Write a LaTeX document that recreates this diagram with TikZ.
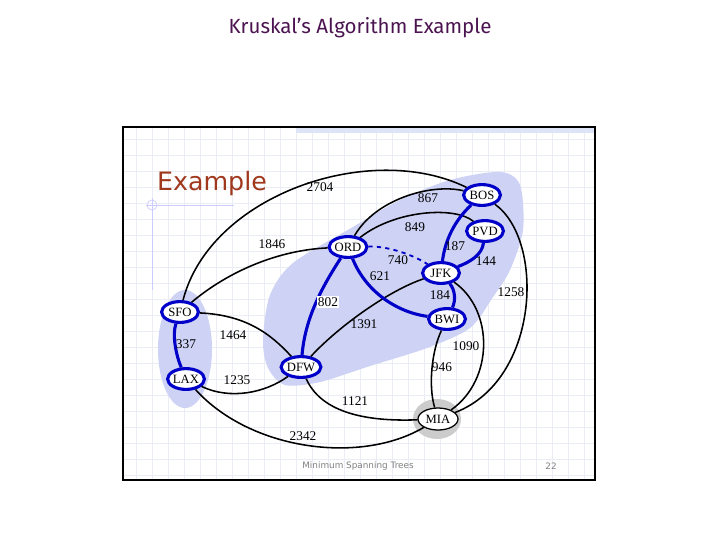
\documentclass[tikz,border=0pt]{standalone}
\usepackage{fontspec}
\setmainfont{Liberation Serif}
\newfontfamily\slidefont{DejaVu Sans}
\newfontfamily\headfont{Fira Sans}
\usepackage{xcolor}
\usepackage{tikz}
\usetikzlibrary{shapes.geometric}
\definecolor{mstblue}{RGB}{0,0,200}
\definecolor{blobblue}{RGB}{206,210,244}
\definecolor{exred}{RGB}{160,56,30}
\definecolor{headpurple}{RGB}{75,20,80}
\definecolor{gridgray}{RGB}{234,237,243}
\definecolor{bandblue}{RGB}{222,228,248}
\tikzset{
    city/.style={draw=mstblue, line width=2.2pt, ellipse, fill=white, inner sep=0pt, minimum width=0.92cm, minimum height=0.52cm, font=\fontsize{9}{9}\selectfont},
    mstedge/.style={draw=mstblue, line width=2.2pt},
    mstdash/.style={draw=mstblue, line width=1.3pt, dashed},
    roadedge/.style={draw, line width=1.1pt},
    wt/.style={font=\fontsize{9.5}{10}\selectfont, inner sep=1pt},
    gridline/.style={draw=gridgray, line width=0.4pt},
    guide/.style={draw=blue!20, line width=0.5pt}
}

\begin{document}
\begin{tikzpicture}[x=0.025cm, y=-0.025cm]
    \useasboundingbox (0,0) rectangle (720,540);
    \node[font=\headfont\fontsize{14.6}{15}\selectfont, text=headpurple] (head) at (360,28) {Kruskal’s Algorithm Example};

    % slide background and grid
    \fill[white] (123,127) rectangle (595,480);
    \foreach \gx in {136,152,...,584}
        \draw[gridline] (\gx,128) -- (\gx,479);
    \foreach \gy in {139,155,...,475}
        \draw[gridline] (124,\gy) -- (594,\gy);
    \fill[bandblue] (296,128) rectangle (594,133);
    \draw[guide] (152,205) circle (5);
    \draw[guide] (146,205) -- (234,205);
    \draw[guide] (152,198) -- (152,290);
    \node[font=\slidefont\fontsize{18}{19}\selectfont, text=exred] (extitle) at (212,184) {Example};

    % clusters
    \fill[blobblue] plot[smooth cycle] coordinates {(263,340) (270,295) (293,263) (353,227) (400,200) (450,180) (500,172) (520,185) (523,230) (510,270) (493,297) (470,328) (427,348) (370,366) (320,382) (285,385) (268,368)};
    \fill[blobblue] (185,349) ellipse [x radius=27, y radius=59];
    \fill[gray!40] (437,419) ellipse [x radius=24, y radius=20];

    % cities
    \node[city] (bos) at (482,195) {BOS};
    \node[city] (pvd) at (485,231) {PVD};
    \node[city] (ord) at (348,247) {ORD};
    \node[city] (jfk) at (441,273) {JFK};
    \node[city] (sfo) at (180,312) {SFO};
    \node[city] (bwi) at (447,319) {BWI};
    \node[city] (dfw) at (301,367) {DFW};
    \node[city] (lax) at (186,379) {LAX};
    \node[city, draw=black, line width=0.9pt, minimum width=1.0cm, minimum height=0.55cm] (mia) at (438,419) {MIA};

    % other routes
    \draw[roadedge] (sfo) .. controls (210,195) and (370,140) .. (bos) node[wt] at (320,187) {2704};
    \draw[roadedge] (ord) .. controls (375,200) and (430,183) .. (bos) node[wt] at (428,198) {867};
    \draw[roadedge] (ord) .. controls (395,210) and (455,206) .. (pvd) node[wt] at (415,227) {849};
    \draw[roadedge] (sfo) .. controls (230,270) and (280,250) .. (ord) node[wt] at (272,244) {1846};
    \draw[roadedge] (sfo) .. controls (245,315) and (270,333) .. (dfw) node[wt] at (233,335) {1464};
    \draw[roadedge] (lax) .. controls (230,400) and (265,393) .. (dfw) node[wt] at (237,380) {1235};
    \draw[roadedge] (lax) .. controls (250,450) and (360,465) .. (mia) node[wt] at (303,436) {2342};
    \draw[roadedge] (dfw) .. controls (320,410) and (360,422) .. (mia) node[wt] at (355,401) {1121};
    \draw[roadedge] (dfw) .. controls (340,325) and (390,290) .. (jfk) node[wt] at (364,324) {1391};
    \draw[roadedge] (jfk) .. controls (494,310) and (494,380) .. (mia) node[wt] at (466,346) {1090};
    \draw[roadedge] (bwi) .. controls (432,350) and (428,385) .. (mia) node[wt] at (442,367) {946};
    \draw[roadedge] (bos) .. controls (545,240) and (540,380) .. (mia) node[wt] at (511,292) {1258};

    % spanning tree
    \draw[mstedge] (sfo) .. controls (172,335) and (176,355) .. (lax) node[wt] at (186,344) {337};
    \draw[mstedge] (ord) .. controls (320,290) and (305,320) .. (dfw) node[wt, fill=white] at (328,302) {802};
    \draw[mstedge] (ord) .. controls (365,290) and (395,312) .. (bwi) node[wt] at (380,276) {621};
    \draw[mstdash] (ord) .. controls (390,246) and (415,256) .. (jfk) node[wt] at (398,260) {740};
    \draw[mstedge] (jfk) .. controls (445,240) and (455,220) .. (bos) node[wt] at (455,246) {187};
    \draw[mstedge] (jfk) .. controls (470,262) and (482,255) .. (pvd) node[wt] at (486,261) {144};
    \draw[mstedge] (jfk) .. controls (455,290) and (456,300) .. (bwi) node[wt] at (440,295) {184};

    % footer and frame
    \node[font=\slidefont\fontsize{6.3}{7}\selectfont, text=gray] (foot) at (358,466) {Minimum Spanning Trees};
    \node[font=\slidefont\fontsize{6.3}{7}\selectfont, text=gray] (page) at (551,466) {22};
    \draw[line width=1.5pt] (123,127) rectangle (595,480);
\end{tikzpicture}
\end{document}
